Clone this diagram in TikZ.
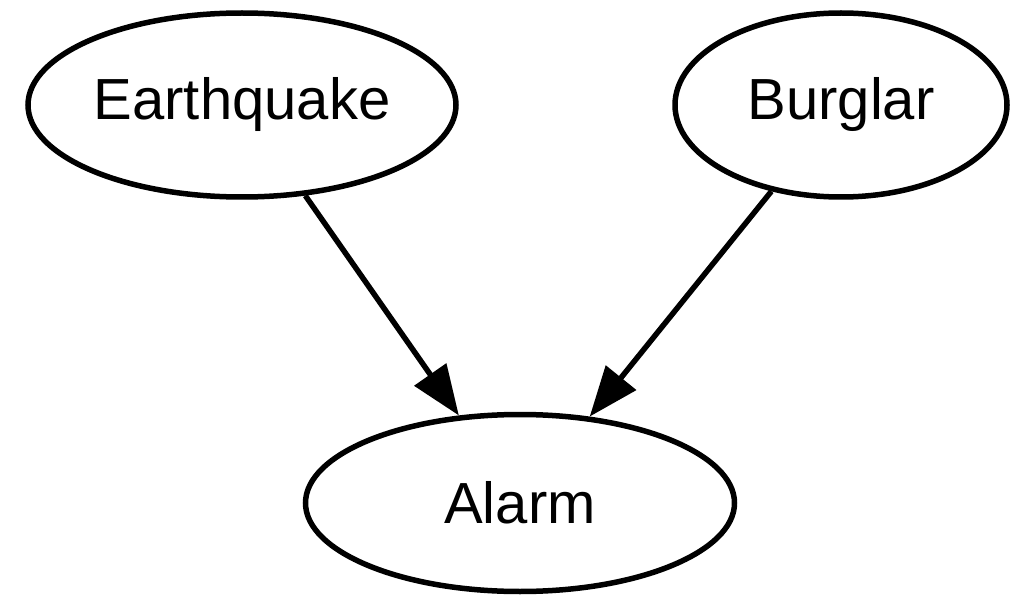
\documentclass[tikz,border=0pt]{standalone}
\usepackage{fontspec}
\setmainfont{Liberation Sans}
\usetikzlibrary{shapes,arrows.meta,positioning}
\tikzstyle{var} = [ellipse, draw=black, line width=5.5pt, fill=white, text=black, text centered, inner sep=0pt, font=\fontsize{58}{60}\selectfont, minimum height=184pt]
\tikzstyle{tedge}  = [draw, line width=5.5pt, -{Triangle[length=50pt,width=38pt]}]

\begin{document}
\begin{tikzpicture}[x=1pt, y=-1pt]
\useasboundingbox (0,0) rectangle (1029,599);

% variables =============================
\node[var, minimum width=428pt] (quake) at (242,105) {Earthquake};
\node[var, minimum width=332pt] (burglar) at (841,105) {Burglar};
\node[var, minimum width=429pt, minimum height=177pt] (alarm) at (520,503) {Alarm};

%edges
\path[tedge] (quake) -- (alarm);
\path[tedge] (burglar) -- (alarm);

\end{tikzpicture}
\end{document}
